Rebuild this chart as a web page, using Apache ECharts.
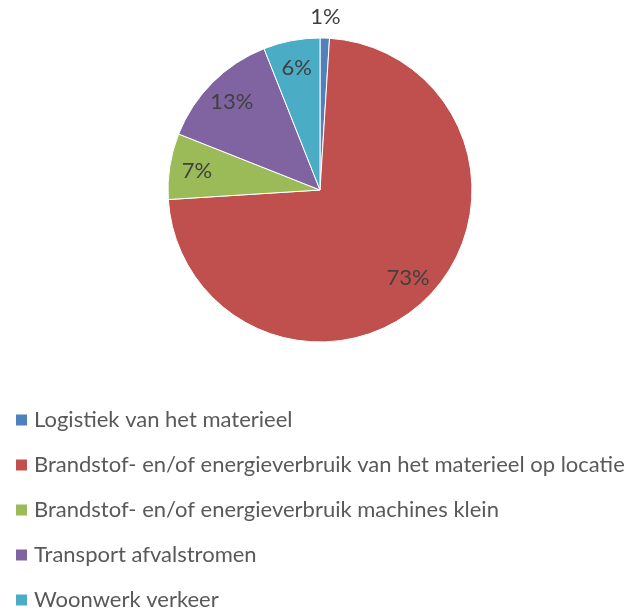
<!DOCTYPE html>
<html>
<head>
<meta charset="utf-8">
<script src="https://cdn.jsdelivr.net/npm/echarts@6/dist/echarts.min.js"></script>
<style>
  html, body { margin: 0; padding: 0; background: #fff; }
  #chart { width: 638px; height: 612px; }
</style>
</head>
<body>
<div id="chart"></div>
<script>
const categories = [
  "Logistiek van het materieel",
  "Brandstof- en/of energieverbruik van het materieel op locatie",
  "Brandstof- en/of energieverbruik machines klein",
  "Transport afvalstromen",
  "Woonwerk verkeer",
];
const shares = [1, 73, 7, 13, 6];
const colors = ["#4F81BD", "#C0504D", "#9BBB59", "#8064A2", "#4BACC6"];

const center = [320, 190];
const R = 152;
const fontFamily = "Lato, 'Open Sans', sans-serif";

const pieData = categories.map((name, i) => ({
  name,
  value: shares[i],
  itemStyle: { color: colors[i] },
}));

// transparent rings only used to place the percentage labels
const labelData = (showIdx) => categories.map((name, i) => ({
  name,
  value: shares[i],
  label: { show: showIdx(i) },
}));

const chart = echarts.init(document.getElementById("chart"));
chart.setOption({
  animation: false,
  legend: {
    orient: "vertical",
    left: 14,
    top: 409,
    padding: 0,
    itemWidth: 13,
    itemHeight: 13,
    itemGap: 23,
    icon: "rect",
    selectedMode: false,
    textStyle: { fontFamily, fontSize: 22, color: "#595959", padding: [0, 0, 0, 1] },
    data: categories.map((name, i) => ({ name, itemStyle: { color: colors[i] } })),
  },
  series: [
    {
      type: "pie",
      center,
      radius: [0, R],
      startAngle: 90,
      clockwise: true,
      silent: true,
      label: { show: false },
      labelLine: { show: false },
      itemStyle: { borderColor: "#fff", borderWidth: 1 },
      data: pieData,
    },
    {
      type: "pie",
      center,
      radius: [R * 0.6, R],
      startAngle: 90,
      silent: true,
      itemStyle: { color: "transparent", borderWidth: 0 },
      label: {
        position: "inside",
        formatter: "{c}%",
        fontFamily,
        fontSize: 22,
        color: "#404040",
      },
      labelLine: { show: false },
      data: labelData(i => i !== 0),
    },
    {
      type: "pie",
      center,
      radius: [R, R + 36],
      startAngle: 90,
      silent: true,
      itemStyle: { color: "transparent", borderWidth: 0 },
      label: {
        position: "inside",
        formatter: "{c}%",
        fontFamily,
        fontSize: 22,
        color: "#404040",
      },
      labelLine: { show: false },
      data: labelData(i => i === 0),
    },
  ],
});
</script>
</body>
</html>
